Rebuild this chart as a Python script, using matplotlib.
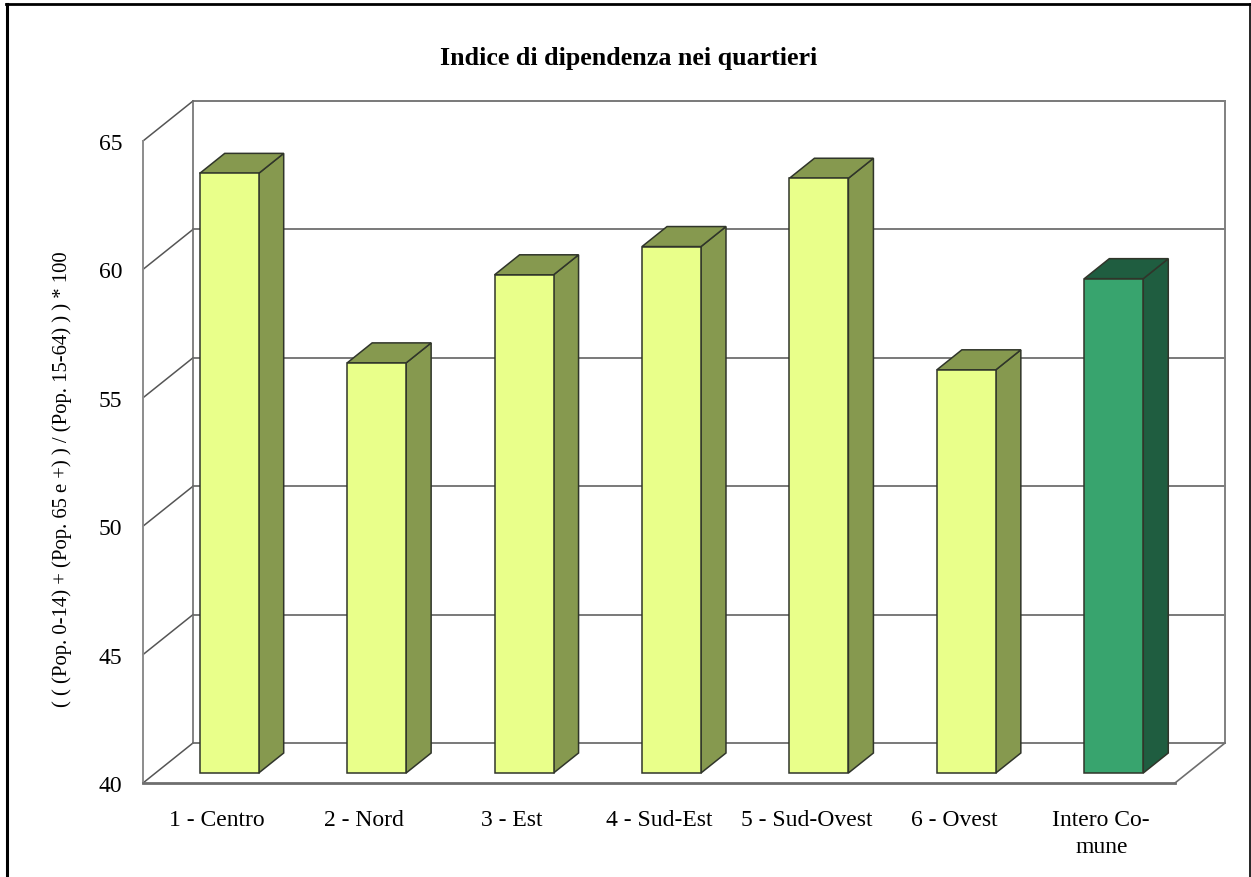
import matplotlib
matplotlib.use("Agg")
import matplotlib.pyplot as plt
from matplotlib.lines import Line2D

plt.rcParams['font.family'] = ['Liberation Serif', 'DejaVu Serif']

quartieri = ["1 - Centro", "2 - Nord", "3 - Est", "4 - Sud-Est", "5 - Sud-Ovest", "6 - Ovest", "Intero Co-\nmune"]
indice = [63.35, 55.97, 59.4, 60.5, 63.16, 55.7, 59.25]
yticks = [40, 45, 50, 55, 60, 65]

W, H = 1251, 878
# front plane of the fake 3d box, in pixels
left, right, top, bottom = 143, 1175, 142, 784

fig = plt.figure(figsize=(W / 100, H / 100), dpi=100, facecolor="white")
ax = fig.add_axes([left / W, 1 - bottom / H, (right - left) / W, (bottom - top) / H])
ax.set_xlim(-0.5, len(quartieri) - 0.5)
ax.set_ylim(yticks[0], yticks[-1])
for s in ax.spines.values():
    s.set_visible(False)

# depth of the box expressed in data units
px_x = (len(quartieri)) / (right - left)
px_y = (yticks[-1] - yticks[0]) / (bottom - top)
depth_x = 50 * px_x
depth_y = 40 * px_y

wall = "#6e6e6e"
x0, x1 = -0.5, len(quartieri) - 0.5
y0, y1 = yticks[0], yticks[-1]

for v in yticks:
    lw = 1.3
    ax.plot([x0 + depth_x, x1 + depth_x], [v + depth_y, v + depth_y], color=wall, lw=lw, clip_on=False, zorder=1)
    ax.plot([x0, x0 + depth_x], [v, v + depth_y], color="#555555", lw=1.1, clip_on=False, zorder=1)

ax.plot([x0, x0], [y0, y1], color="#8c8c8c", lw=1.4, clip_on=False, zorder=1)
ax.plot([x0 + depth_x, x0 + depth_x], [y0 + depth_y, y1 + depth_y], color=wall, lw=1.2, clip_on=False, zorder=1)
ax.plot([x1 + depth_x, x1 + depth_x], [y0 + depth_y, y1 + depth_y], color="#808080", lw=1.4, clip_on=False, zorder=1)
ax.plot([x0, x1], [y0, y0], color=wall, lw=2.0, clip_on=False, zorder=1)
ax.plot([x1, x1 + depth_x], [y0, y0 + depth_y], color=wall, lw=1.2, clip_on=False, zorder=1)

# bars sit between 1/4 and 3/4 of the depth
bar_w = 0.4
fx = 0.25 * depth_x
fy = 0.25 * depth_y
bx = 0.5 * depth_x
by = 0.5 * depth_y
edge = "#30352a"

for i, v in enumerate(indice):
    if i == len(indice) - 1:
        face, side = "#38a46e", "#1f5d40"
    else:
        face, side = "#e9ff8a", "#86994f"
    xl = i - bar_w / 2 + fx
    xr = i + bar_w / 2 + fx
    yb = y0 + fy
    yt = v + fy
    ax.fill([xr, xr + bx, xr + bx, xr], [yb, yb + by, yt + by, yt], facecolor=side, edgecolor=edge, lw=1.1, clip_on=False, zorder=3)
    ax.fill([xl, xr, xr + bx, xl + bx], [yt, yt, yt + by, yt + by], facecolor=side, edgecolor=edge, lw=1.1, clip_on=False, zorder=3)
    ax.bar(xl + bar_w / 2, v - y0, bottom=yb, width=bar_w, color=face, edgecolor=edge, lw=1.1, clip_on=False, zorder=4)

ax.set_xticks(range(len(quartieri)))
ax.set_xticklabels(quartieri, fontsize=17, linespacing=1.34)
ax.set_yticks(yticks)
ax.set_yticklabels([str(v) for v in yticks], fontsize=17)
ax.tick_params(axis="x", length=0, pad=19)
ax.tick_params(axis="y", length=0, pad=15)

fig.text(629 / W, 1 - 58 / H, "Indice di dipendenza nei quartieri", fontsize=18.7, fontweight="bold", ha="center", va="center")
fig.text(62 / W, 1 - 479 / H, "( ( (Pop. 0-14) + (Pop. 65 e +) ) / (Pop. 15-64) ) ) * 100", fontsize=14.9, rotation=90, ha="center", va="center")

# outer frame, the bottom is cut off in the original
fig.add_artist(Line2D([6.5 / W, 6.5 / W], [0, 1 - 5 / H], color="black", lw=2.2))
fig.add_artist(Line2D([6 / W, 1250 / W], [1 - 5 / H, 1 - 5 / H], color="black", lw=2.0))
fig.add_artist(Line2D([1250 / W, 1250 / W], [0, 1 - 5 / H], color="black", lw=1.2))

fig.savefig("out.png", dpi=100)
